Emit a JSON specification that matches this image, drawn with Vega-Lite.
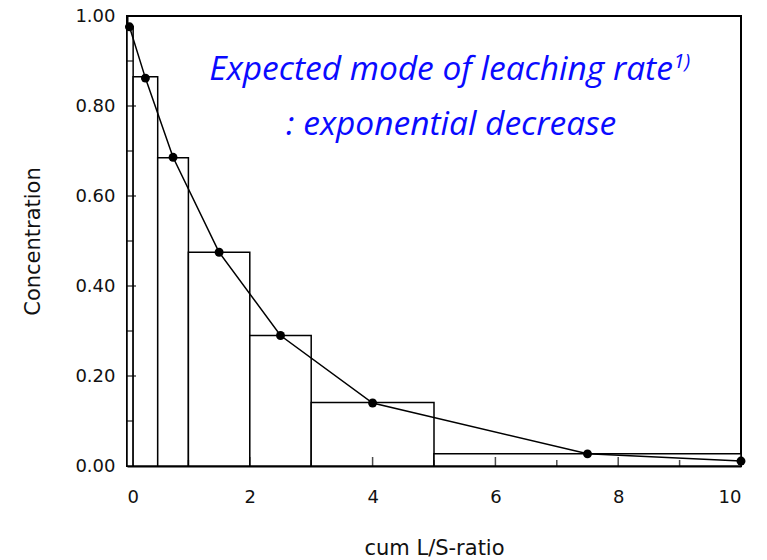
{
  "$schema": "https://vega.github.io/schema/vega-lite/v6.json",
  "width": 614,
  "height": 450,
  "autosize": "none",
  "padding": {"left": 127, "top": 16, "right": 26, "bottom": 94},
  "background": "white",
  "config": {
    "view": {"stroke": "black", "strokeWidth": 2},
    "axis": {
      "domainColor": "black",
      "domainWidth": 2,
      "ticks": false,
      "tickSize": 0,
      "grid": false,
      "labelFont": "DejaVu Sans",
      "labelFontSize": 18,
      "labelColor": "#111",
      "titleFont": "DejaVu Sans",
      "titleFontSize": 21,
      "titleFontWeight": "normal",
      "titleColor": "#111"
    }
  },
  "datasets": {
    "bars": [
      {"from": 0, "to": 0.1, "conc": 0.976},
      {"from": 0.1, "to": 0.5, "conc": 0.865},
      {"from": 0.5, "to": 1, "conc": 0.685},
      {"from": 1, "to": 2, "conc": 0.475},
      {"from": 2, "to": 3, "conc": 0.29},
      {"from": 3, "to": 5, "conc": 0.141},
      {"from": 5, "to": 10, "conc": 0.027}
    ],
    "curve": [
      {"ls": 0.04, "conc": 0.976},
      {"ls": 0.3, "conc": 0.862},
      {"ls": 0.75, "conc": 0.686},
      {"ls": 1.5, "conc": 0.475},
      {"ls": 2.5, "conc": 0.29},
      {"ls": 4, "conc": 0.14},
      {"ls": 7.5, "conc": 0.027},
      {"ls": 10, "conc": 0.011}
    ],
    "xMajor": [{"ls": 2}, {"ls": 4}, {"ls": 6}, {"ls": 8}],
    "xMinor": [{"ls": 1}, {"ls": 3}, {"ls": 5}, {"ls": 7}, {"ls": 9}],
    "yMajor": [{"conc": 0.2}, {"conc": 0.4}, {"conc": 0.6}, {"conc": 0.8}],
    "yMinor": [{"conc": 0.1}, {"conc": 0.3}, {"conc": 0.5}, {"conc": 0.7}, {"conc": 0.9}]
  },
  "layer": [
    {
      "data": {"name": "bars"},
      "mark": {"type": "bar", "fill": "white", "stroke": "black", "strokeWidth": 1.5},
      "encoding": {
        "x": {
          "field": "from",
          "type": "quantitative",
          "scale": {"domain": [0, 10], "nice": false},
          "axis": {
            "title": "cum L/S-ratio",
            "values": [0, 2, 4, 6, 8, 10],
            "format": "d",
            "labelPadding": 22,
            "titlePadding": 31
          }
        },
        "x2": {"field": "to"},
        "y": {
          "field": "conc",
          "type": "quantitative",
          "scale": {"domain": [0, 1], "nice": false},
          "axis": {
            "title": "Concentration",
            "values": [0, 0.2, 0.4, 0.6, 0.8, 1],
            "format": ".2f",
            "labelPadding": 12,
            "titlePadding": 31
          }
        },
        "y2": {"datum": 0}
      }
    },
    {
      "data": {"name": "xMajor"},
      "mark": {"type": "tick", "orient": "vertical", "color": "black", "size": 9, "thickness": 1.5, "yOffset": -4.5},
      "encoding": {
        "x": {"field": "ls", "type": "quantitative"},
        "y": {"datum": 0, "type": "quantitative"}
      }
    },
    {
      "data": {"name": "xMinor"},
      "mark": {"type": "tick", "orient": "vertical", "color": "black", "size": 6, "thickness": 1.5, "yOffset": -3},
      "encoding": {
        "x": {"field": "ls", "type": "quantitative"},
        "y": {"datum": 0, "type": "quantitative"}
      }
    },
    {
      "data": {"name": "yMajor"},
      "mark": {"type": "tick", "orient": "horizontal", "color": "black", "size": 9, "thickness": 1.5, "xOffset": 4.5},
      "encoding": {
        "y": {"field": "conc", "type": "quantitative"},
        "x": {"datum": 0, "type": "quantitative"}
      }
    },
    {
      "data": {"name": "yMinor"},
      "mark": {"type": "tick", "orient": "horizontal", "color": "black", "size": 6, "thickness": 1.5, "xOffset": 3},
      "encoding": {
        "y": {"field": "conc", "type": "quantitative"},
        "x": {"datum": 0, "type": "quantitative"}
      }
    },
    {
      "data": {"name": "curve"},
      "mark": {"type": "line", "color": "black", "strokeWidth": 1.5, "point": {"filled": true, "color": "black", "size": 80}},
      "encoding": {
        "x": {"field": "ls", "type": "quantitative"},
        "y": {"field": "conc", "type": "quantitative"}
      }
    },
    {
      "data": {"values": [{"ls": 8.89, "conc": 0.858, "line": "Expected mode of leaching rate"}]},
      "mark": {"type": "text", "font": "Open Sans", "fontStyle": "italic", "fontSize": 33.5, "color": "#0a0aff", "align": "right", "baseline": "alphabetic"},
      "encoding": {
        "x": {"field": "ls", "type": "quantitative"},
        "y": {"field": "conc", "type": "quantitative"},
        "text": {"field": "line"}
      }
    },
    {
      "data": {"values": [{"ls": 5.28, "conc": 0.7356, "line": ": exponential decrease"}]},
      "mark": {"type": "text", "font": "Open Sans", "fontStyle": "italic", "fontSize": 33.5, "color": "#0a0aff", "align": "center", "baseline": "alphabetic"},
      "encoding": {
        "x": {"field": "ls", "type": "quantitative"},
        "y": {"field": "conc", "type": "quantitative"},
        "text": {"field": "line"}
      }
    },
    {
      "data": {"values": [{"ls": 8.9, "conc": 0.885, "note": "1)"}]},
      "mark": {"type": "text", "font": "Open Sans", "fontStyle": "italic", "fontSize": 20, "color": "#0a0aff", "align": "left", "baseline": "alphabetic"},
      "encoding": {
        "x": {"field": "ls", "type": "quantitative"},
        "y": {"field": "conc", "type": "quantitative"},
        "text": {"field": "note"}
      }
    }
  ]
}
